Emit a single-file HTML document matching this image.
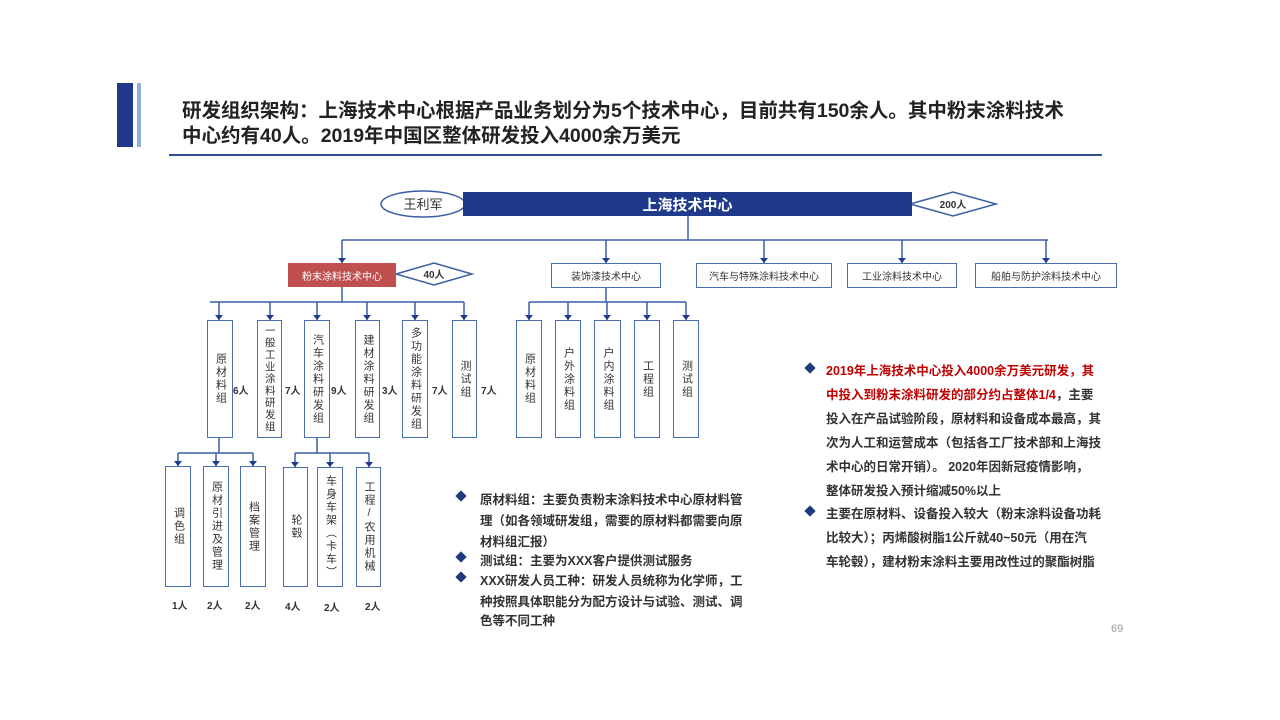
<!DOCTYPE html>
<html><head><meta charset="utf-8"><style>
*{margin:0;padding:0;box-sizing:border-box}
body{width:1280px;height:720px;background:#fff;position:relative;overflow:hidden;font-family:"Liberation Sans","Noto Sans CJK SC",sans-serif;color:#333}
.a{position:absolute}
.v{position:absolute;border:1.5px solid #4a6fb0;background:#fff;display:flex;align-items:center;justify-content:center}
.v span{writing-mode:vertical-rl;font-size:11px;letter-spacing:2px;line-height:1;color:#333;text-orientation:upright}
.v span.s{font-size:10.5px;letter-spacing:1.5px}
.h{position:absolute;border:1.5px solid #4a6fb0;background:#fff;font-size:10px;display:flex;align-items:center;justify-content:center;color:#333}
.n{position:absolute;font-size:10px;font-weight:bold;color:#333}
.t{position:absolute;font-size:12.5px;color:#333;white-space:nowrap;font-weight:bold}
.b{position:absolute;width:8px;height:8px;background:#1f3a7a;transform:rotate(45deg)}
</style></head><body>
<div class="a" style="left:117px;top:83px;width:16px;height:64px;background:#1f3a8a"></div>
<div class="a" style="left:137px;top:83px;width:4px;height:64px;background:#8fb0dc"></div>
<div class="a" style="left:182px;top:99px;font-size:19.5px;font-weight:bold;line-height:25px;color:#222;white-space:nowrap">研发组织架构：上海技术中心根据产品业务划分为5个技术中心，目前共有150余人。其中粉末涂料技术<br>中心约有40人。2019年中国区整体研发投入4000余万美元</div>
<div class="a" style="left:169px;top:154px;width:933px;height:2px;background:#2f4f8f"></div>

<svg class="a" style="left:0;top:0" width="1280" height="720">
<g stroke="#3a5fa5" stroke-width="1.5" fill="none">
<ellipse cx="423" cy="204" rx="42" ry="13"/>
<polygon points="910,204 953,192 996,204 953,216"/>
<polygon points="396,274 434,263 472,274 434,285"/>
<path d="M688 216V240M342 240H1048"/>
<path d="M342 240V263M606 240V263M764 240V263M902 240V263M1046 240V263"/>
<path d="M342 287V302M210 302H464M219 302V320M270 302V320M317 302V320M367 302V320M415 302V320M464 302V320"/>
<path d="M606 288V302M529 302H686M529 302V320M568 302V320M607 302V320M647 302V320M686 302V320"/>
<path d="M219 438V453M178 453H253M178 453V466M216 453V466M253 453V466"/>
<path d="M317 438V453M295 453H369M295 453V467M330 453V467M369 453V467"/>
</g>
<g fill="#1f3a8a">
<path d="M338 258h8l-4 5z M602 258h8l-4 5z M760 258h8l-4 5z M898 258h8l-4 5z M1042 258h8l-4 5z"/>
<path d="M215 315h8l-4 5z M266 315h8l-4 5z M313 315h8l-4 5z M363 315h8l-4 5z M411 315h8l-4 5z M460 315h8l-4 5z"/>
<path d="M525 315h8l-4 5z M564 315h8l-4 5z M603 315h8l-4 5z M643 315h8l-4 5z M682 315h8l-4 5z"/>
<path d="M174 461h8l-4 5z M212 461h8l-4 5z M249 461h8l-4 5z M291 462h8l-4 5z M326 462h8l-4 5z M365 462h8l-4 5z"/>
</g>
<text x="423" y="209" font-size="13" text-anchor="middle" fill="#333" font-family="Liberation Sans,Noto Sans CJK SC,sans-serif">王利军</text>
<text x="953" y="208" font-size="10" text-anchor="middle" fill="#333" font-weight="bold" font-family="Liberation Sans,Noto Sans CJK SC,sans-serif">200人</text>
<text x="434" y="278" font-size="10" text-anchor="middle" fill="#333" font-weight="bold" font-family="Liberation Sans,Noto Sans CJK SC,sans-serif">40人</text>
</svg>

<div class="a" style="left:463px;top:192px;width:449px;height:24px;background:#1f3a8a;color:#fff;font-size:15px;font-weight:bold;display:flex;align-items:center;justify-content:center">上海技术中心</div>
<div class="a" style="left:288px;top:263px;width:108px;height:24px;background:#c0504d;color:#fff;font-size:10px;display:flex;align-items:center;justify-content:center">粉末涂料技术中心</div>
<div class="h" style="left:551px;top:263px;width:110px;height:25px">装饰漆技术中心</div>
<div class="h" style="left:696px;top:263px;width:136px;height:25px">汽车与特殊涂料技术中心</div>
<div class="h" style="left:847px;top:263px;width:110px;height:25px">工业涂料技术中心</div>
<div class="h" style="left:975px;top:263px;width:142px;height:25px">船舶与防护涂料技术中心</div>

<div class="v" style="left:207px;top:320px;width:26px;height:118px"><span>原材料组</span></div>
<div class="v" style="left:257px;top:320px;width:25px;height:118px"><span class="s">一般工业涂料研发组</span></div>
<div class="v" style="left:304px;top:320px;width:26px;height:118px"><span>汽车涂料研发组</span></div>
<div class="v" style="left:355px;top:320px;width:25px;height:118px"><span>建材涂料研发组</span></div>
<div class="v" style="left:402px;top:320px;width:26px;height:118px"><span>多功能涂料研发组</span></div>
<div class="v" style="left:452px;top:320px;width:25px;height:118px"><span>测试组</span></div>
<div class="n" style="left:233px;top:382px">6人</div>
<div class="n" style="left:285px;top:382px">7人</div>
<div class="n" style="left:331px;top:382px">9人</div>
<div class="n" style="left:382px;top:382px">3人</div>
<div class="n" style="left:432px;top:382px">7人</div>
<div class="n" style="left:481px;top:382px">7人</div>

<div class="v" style="left:516px;top:320px;width:26px;height:118px"><span>原材料组</span></div>
<div class="v" style="left:555px;top:320px;width:26px;height:118px"><span>户外涂料组</span></div>
<div class="v" style="left:594px;top:320px;width:27px;height:118px"><span>户内涂料组</span></div>
<div class="v" style="left:634px;top:320px;width:26px;height:118px"><span>工程组</span></div>
<div class="v" style="left:673px;top:320px;width:26px;height:118px"><span>测试组</span></div>

<div class="v" style="left:165px;top:466px;width:26px;height:121px"><span>调色组</span></div>
<div class="v" style="left:203px;top:466px;width:26px;height:121px"><span>原材引进及管理</span></div>
<div class="v" style="left:240px;top:466px;width:26px;height:121px"><span>档案管理</span></div>
<div class="v" style="left:283px;top:467px;width:25px;height:120px"><span>轮毂</span></div>
<div class="v" style="left:317px;top:467px;width:26px;height:120px"><span>车身车架（卡车）</span></div>
<div class="v" style="left:356px;top:467px;width:25px;height:120px"><span>工程/农用机械</span></div>
<div class="n" style="left:172px;top:597px">1人</div>
<div class="n" style="left:207px;top:597px">2人</div>
<div class="n" style="left:245px;top:597px">2人</div>
<div class="n" style="left:285px;top:598px">4人</div>
<div class="n" style="left:324px;top:599px">2人</div>
<div class="n" style="left:365px;top:598px">2人</div>

<div class="b" style="left:457px;top:492px"></div>
<div class="b" style="left:457px;top:553px"></div>
<div class="b" style="left:457px;top:573px"></div>
<div class="t" style="left:480px;top:489px">原材料组：主要负责粉末涂料技术中心原材料管</div>
<div class="t" style="left:480px;top:510px">理（如各领域研发组，需要的原材料都需要向原</div>
<div class="t" style="left:480px;top:531px">材料组汇报）</div>
<div class="t" style="left:480px;top:550px">测试组：主要为XXX客户提供测试服务</div>
<div class="t" style="left:480px;top:570px">XXX研发人员工种：研发人员统称为化学师，工</div>
<div class="t" style="left:480px;top:591px">种按照具体职能分为配方设计与试验、测试、调</div>
<div class="t" style="left:480px;top:610px">色等不同工种</div>

<div class="b" style="left:806px;top:364px"></div>
<div class="b" style="left:806px;top:507px"></div>
<div class="t" style="left:826px;top:360px;color:#c00000">2019年上海技术中心投入4000余万美元研发，其</div>
<div class="t" style="left:826px;top:384px"><span style="color:#c00000">中投入到粉末涂料研发的部分约占整体1/4</span>，主要</div>
<div class="t" style="left:826px;top:408px">投入在产品试验阶段，原材料和设备成本最高，其</div>
<div class="t" style="left:826px;top:432px">次为人工和运营成本（包括各工厂技术部和上海技</div>
<div class="t" style="left:826px;top:456px">术中心的日常开销）。 2020年因新冠疫情影响，</div>
<div class="t" style="left:826px;top:480px">整体研发投入预计缩减50%以上</div>
<div class="t" style="left:826px;top:503px">主要在原材料、设备投入较大（粉末涂料设备功耗</div>
<div class="t" style="left:826px;top:527px">比较大）；丙烯酸树脂1公斤就40~50元（用在汽</div>
<div class="t" style="left:826px;top:551px">车轮毂），建材粉末涂料主要用改性过的聚酯树脂</div>
<div class="a" style="left:1111px;top:623px;font-size:11px;color:#999">69</div>
</body></html>
